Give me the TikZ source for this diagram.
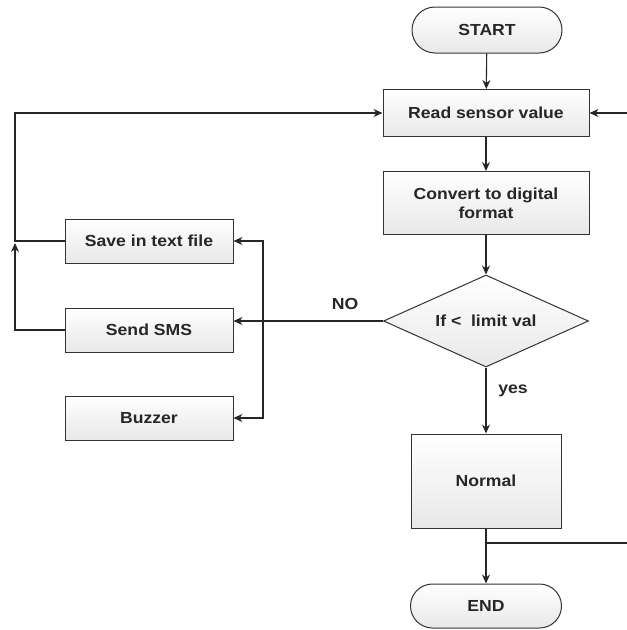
\documentclass[tikz,border=0pt]{standalone}
\usepackage{fontspec}
\setmainfont{Liberation Sans}[FakeStretch=1.1]
\usetikzlibrary{shapes.geometric,shapes.misc,arrows.meta,calc}
\begin{document}
\begin{tikzpicture}[x=1pt,y=-1pt,
  every node/.style={font=\bfseries\fontsize{16}{19}\selectfont, text=black!85},
  boxshape/.style={draw=black!80, line width=1pt, top color=white, bottom color=black!9, align=center, inner sep=0pt},
  procbox/.style={boxshape, rectangle},
  termbox/.style={boxshape, rounded rectangle},
  decbox/.style={boxshape, diamond, aspect=2.23},
  conn/.style={draw=black!85, line width=1.1pt},
  arr/.style={conn, -{Stealth[length=9pt,width=8pt]}},
  lbl/.style={font=\bfseries\fontsize{16}{19}\selectfont}]
\useasboundingbox (0,0) rectangle (627,630);
% main column
\node[termbox, minimum width=150pt, minimum height=46pt] (start) at (487,30) {START};
\node[procbox, minimum width=206pt, minimum height=47pt] (read) at (486,113) {Read sensor value};
\node[procbox, minimum width=206pt, minimum height=63pt] (conv) at (486,203) {Convert to digital\\format};
\node[decbox, minimum width=205pt, minimum height=92pt] (dec) at (486,321) {If {<}\ \ limit val};
\node[procbox, minimum width=150pt, minimum height=94pt] (normal) at (486,481) {Normal};
\node[termbox, minimum width=151pt, minimum height=44pt] (endn) at (486,606) {END};
% left column
\node[procbox, minimum width=168pt, minimum height=44pt] (save) at (149,241) {Save in text file};
\node[procbox, minimum width=168pt, minimum height=44pt] (sms) at (149,330) {Send SMS};
\node[procbox, minimum width=168pt, minimum height=44pt] (buzz) at (149,418) {Buzzer};
% labels
\node[lbl] (no) at (345,304) {NO};
\node[lbl] (yes) at (513,391) {yes};
% helper coordinates
\coordinate (j) at (263,321);
\coordinate (lx) at (15,241);
\coordinate (lt) at (15,113);
\coordinate (nb) at (486,543);
\coordinate (rb) at (627,543);
\coordinate (ra) at (627,113);
% connectors
\draw[arr] (start) -- (read);
\draw[arr] (read) -- (conv);
\draw[arr] (conv) -- (dec);
\draw[arr] (dec) -- (normal);
\draw[arr] (normal) -- (endn);
\draw[conn] (nb) -- (rb);
\draw[arr] (ra) -- (read.east);
\draw[arr] (dec.west) -- (dec.west -| sms.east);
\draw[arr] (j) |- (save.east);
\draw[arr] (j) |- (buzz.east);
\draw[arr] (save.west) -- (lx) -- (lt) -- (read.west);
\draw[arr] (sms.west) -| ($(lx)+(0,2)$);
\end{tikzpicture}
\end{document}
